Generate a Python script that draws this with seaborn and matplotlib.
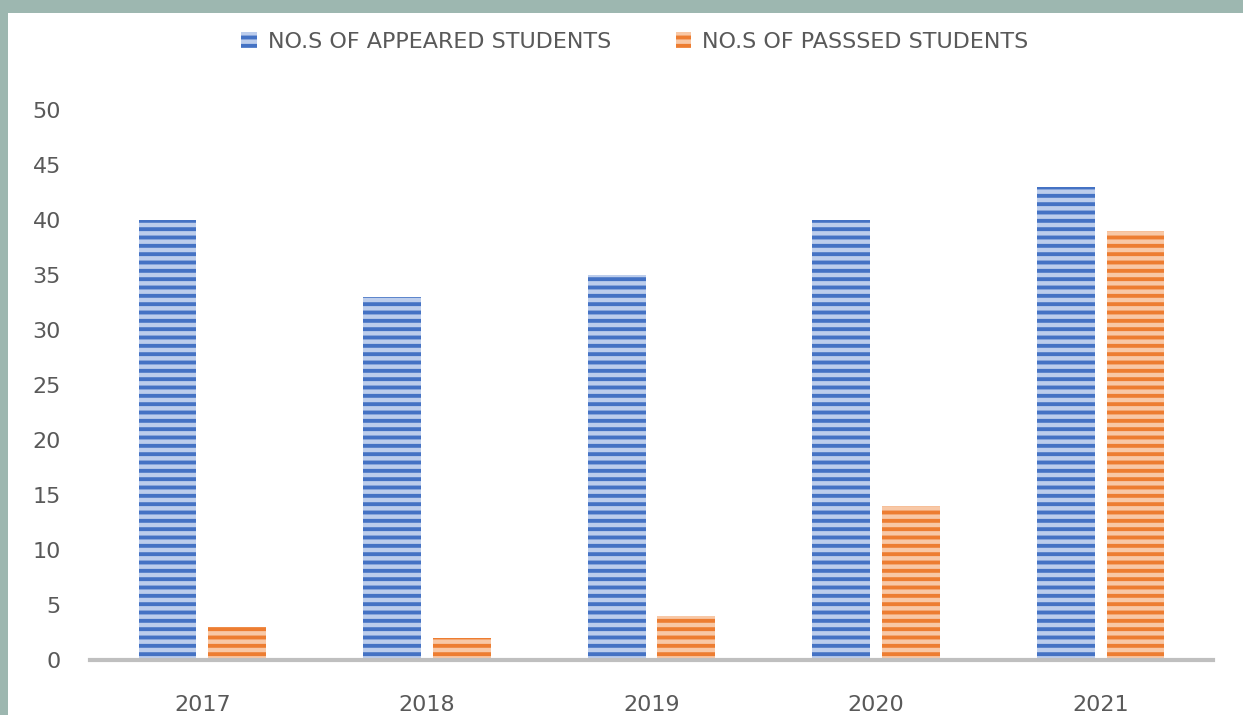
import matplotlib
matplotlib.use('Agg')
import matplotlib.pyplot as plt
import matplotlib.patches as mpatches
import pandas as pd
import seaborn as sns

years    = ['2017', '2018', '2019', '2020', '2021']
appeared = [40, 33, 35, 40, 43]
passed   = [3, 2, 4, 14, 39]
series   = ['NO.S OF APPEARED STUDENTS', 'NO.S OF PASSSED STUDENTS']

df = pd.DataFrame({
    'year': years * 2,
    'count': appeared + passed,
    'series': [series[0]] * len(years) + [series[1]] * len(years),
})

dark  = {series[0]: '#4472c4', series[1]: '#ed7d31'}
light = {series[0]: '#bccdec', series[1]: '#f8c8a6'}
txt_grey = '#595959'

sns.set_theme(style='white')
plt.rcParams['font.family'] = ['DejaVu Sans']
plt.rcParams['hatch.linewidth'] = 2.8

fig = plt.figure(figsize=(12.43, 7.15), dpi=100, facecolor='#9db7b0')
# white chart area inside the screenshot frame
fig.patches.append(mpatches.Rectangle((8 / 1243, 0), 1, (715 - 13) / 715,
                                      transform=fig.transFigure, facecolor='white',
                                      edgecolor='none', zorder=-5))

ax = fig.add_axes([90 / 1243, 55 / 715, (1213 - 90) / 1243, 550 / 715])
ax.set_facecolor('none')
ax.set_zorder(2)

sns.barplot(data=df, x='year', y='count', hue='series', hue_order=series,
            order=years, width=0.62, gap=0.17, ax=ax, legend=False)

for cont, s in zip(ax.containers, series):
    for bar in cont:
        bar.set_facecolor(light[s])
        bar.set_edgecolor(dark[s])
        bar.set_hatch('--')
        bar.set_linewidth(0)

ax.set_ylim(0, 50)
ax.set_xlim(-0.5, 4.5)
ax.set_yticks(range(0, 51, 5))
ax.set_xlabel('')
ax.set_ylabel('')
for sp in ['top', 'right', 'left']:
    ax.spines[sp].set_visible(False)
ax.spines['bottom'].set_color('#bfbfbf')
ax.spines['bottom'].set_linewidth(3)
ax.tick_params(axis='both', length=0, labelsize=16, colors=txt_grey)
ax.tick_params(axis='y', pad=21)
ax.tick_params(axis='x', pad=25)

handles = [mpatches.Patch(facecolor=light[s], edgecolor=dark[s], hatch='--',
                          linewidth=0, label=s) for s in series]
leg = fig.legend(handles=handles, loc='center', bbox_to_anchor=(635 / 1243, 1 - 42 / 715),
                 ncol=2, frameon=False, fontsize=16, labelcolor=txt_grey,
                 handlelength=0.7, handleheight=0.7, handletextpad=0.5, columnspacing=2.9)
leg.set_zorder(3)

fig.savefig('out.png', dpi=100, facecolor=fig.get_facecolor())
